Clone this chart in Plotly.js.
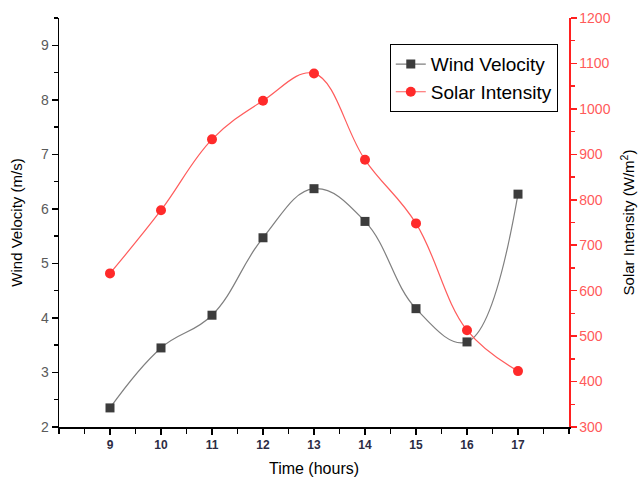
<!DOCTYPE html>
<html>
<head>
<meta charset="utf-8">
<script src="https://cdn.plot.ly/plotly-3.0.1.min.js"></script>
<style>html,body{margin:0;padding:0;background:#fff;}#chart{width:639px;height:482px;}</style>
</head>
<body>
<div id="chart"></div>
<script>
const hours = [9, 10, 11, 12, 13, 14, 15, 16, 17];
const windVelocity = [2.35, 3.45, 4.05, 5.47, 6.37, 5.77, 4.17, 3.56, 6.27];
const solarIntensity = [638, 777, 933, 1018, 1078, 888, 748, 513, 423];
const xTickVals = [9, 10, 11, 12, 13, 14, 15, 16, 17];
const xTickText = ['9', '10', '11', '12', '13', '14', '15', '16', '17'];

const font = 'Liberation Sans, Arial, sans-serif';

const traces = [
  {
    x: hours, y: windVelocity, name: 'Wind Velocity', type: 'scatter', mode: 'lines+markers',
    line: {color: '#7f7f7f', width: 1.2, shape: 'spline', smoothing: 1.15},
    marker: {symbol: 'square', size: 9, color: '#3c3c3c'},
    xaxis: 'x', yaxis: 'y'
  },
  {
    x: hours, y: solarIntensity, name: 'Solar Intensity', type: 'scatter', mode: 'lines+markers',
    line: {color: '#ff5c5c', width: 1.2, shape: 'spline', smoothing: 1.1},
    marker: {symbol: 'circle', size: 10, color: '#ff2a2a'},
    xaxis: 'x', yaxis: 'y2'
  }
];

const layout = {
  width: 639, height: 482,
  margin: {l: 59, r: 70, t: 18, b: 55},
  paper_bgcolor: '#ffffff', plot_bgcolor: '#ffffff',
  font: {family: font},
  showlegend: true,
  legend: {
    x: 0.978, y: 0.936, xanchor: 'right', yanchor: 'top',
    bordercolor: '#000000', borderwidth: 1, bgcolor: '#ffffff',
    font: {family: font, size: 19, color: '#000000'},
    tracegroupgap: 0, itemwidth: 30
  },
  xaxis: {
    range: [8, 18], tickmode: 'array', tickvals: xTickVals, ticktext: xTickText,
    ticks: 'outside', ticklen: 6, tickwidth: 1.5, tickcolor: '#000',
    showline: true, linecolor: '#000', linewidth: 1.5, showgrid: false, zeroline: false,
    tickfont: {family: font, size: 12, color: '#2c2c44', weight: 'bold'},
    minor: {dtick: 0.5, tick0: 8, ticks: 'outside', ticklen: 5, tickwidth: 1.5, tickcolor: '#000', showgrid: false},
    title: {text: 'Time (hours)', font: {family: font, size: 16, color: '#000'}, standoff: 12}
  },
  xaxis2: {
    range: [8, 18], overlaying: 'x', side: 'top', anchor: 'y',
    tickmode: 'linear', tick0: 8, dtick: 0.5,
    ticks: 'inside', ticklen: 5, tickwidth: 1.5, tickcolor: '#000',
    showline: true, linecolor: '#000', linewidth: 1.5, showgrid: false, zeroline: false,
    showticklabels: false
  },
  yaxis: {
    range: [2, 9.5], tickmode: 'linear', tick0: 2, dtick: 1,
    ticks: 'outside', ticklen: 6, tickwidth: 1.5, tickcolor: '#000',
    showline: true, linecolor: '#000', linewidth: 1.5, showgrid: false, zeroline: false,
    tickfont: {family: font, size: 14, color: '#5a5a5a'},
    minor: {dtick: 0.5, tick0: 2, ticks: 'outside', ticklen: 4, tickwidth: 1.5, tickcolor: '#000', showgrid: false},
    title: {text: 'Wind Velocity (m/s)', font: {family: font, size: 15, color: '#000'}, standoff: 14}
  },
  yaxis2: {
    range: [300, 1200], overlaying: 'y', side: 'right', anchor: 'x',
    tickmode: 'linear', tick0: 300, dtick: 100,
    ticks: 'outside', ticklen: 6, tickwidth: 1.5, tickcolor: '#ff2020',
    showline: true, linecolor: '#ff2020', linewidth: 1.5, showgrid: false, zeroline: false,
    tickfont: {family: font, size: 14, color: '#ff5a5a'},
    minor: {dtick: 50, tick0: 300, ticks: 'outside', ticklen: 4, tickwidth: 1.5, tickcolor: '#ff2020', showgrid: false},
    title: {text: 'Solar Intensity (W/m<sup>2</sup>)', font: {family: font, size: 15, color: '#000'}, standoff: 14}
  }
};

Plotly.newPlot('chart', traces, layout, {displayModeBar: false, staticPlot: true});
</script>
</body>
</html>
